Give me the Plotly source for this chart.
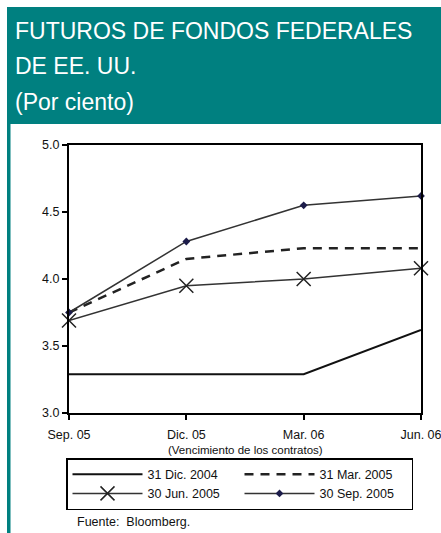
import plotly.graph_objects as go

categories = ["Sep. 05", "Dic. 05", "Mar. 06", "Jun. 06"]
positions = [0, 1, 2, 3]
s_dic2004 = [3.29, 3.29, 3.29, 3.62]
s_mar2005 = [3.75, 4.15, 4.23, 4.23]
s_jun2005 = [3.69, 3.95, 4.00, 4.08]
s_sep2005 = [3.75, 4.28, 4.55, 4.62]
y_ticks = [3.0, 3.5, 4.0, 4.5, 5.0]

W, H = 441, 533
L, R, T, B = 69, 421, 145, 413   # plot area in pixels
pw, ph = R - L, B - T

def px(X):
    return (X - L) / pw

def py(Y):
    return (B - Y) / ph

TEAL = "#008080"
FONT = "Liberation Sans, Arial, sans-serif"

fig = go.Figure()
fig.add_trace(go.Scatter(x=positions, y=s_dic2004, mode="lines", name="31 Dic. 2004",
                         line=dict(color="#111111", width=2), cliponaxis=False))
fig.add_trace(go.Scatter(x=positions, y=s_mar2005, mode="lines", name="31 Mar. 2005",
                         line=dict(color="#222222", width=2.5, dash="9px,7px"), cliponaxis=False))
fig.add_trace(go.Scatter(x=positions, y=s_jun2005, mode="lines+markers", name="30 Jun. 2005",
                         line=dict(color="#333333", width=1.5),
                         marker=dict(symbol="x-thin", size=14, line=dict(width=1.5, color="#222222")),
                         cliponaxis=False))
fig.add_trace(go.Scatter(x=positions, y=s_sep2005, mode="lines+markers", name="30 Sep. 2005",
                         line=dict(color="#333333", width=1.5),
                         marker=dict(symbol="diamond", size=6, color="#1c1c4a"),
                         cliponaxis=False))

shapes = [
    dict(type="rect", xref="paper", yref="paper", x0=px(7), x1=px(441), y0=py(124), y1=py(7),
         fillcolor=TEAL, line=dict(width=0), layer="below"),
    dict(type="rect", xref="paper", yref="paper", x0=px(7), x1=px(10.5), y0=py(533), y1=py(124),
         fillcolor=TEAL, line=dict(width=0), layer="below"),
]

annotations = [
    dict(text="FUTUROS DE FONDOS FEDERALES", x=px(13), y=py(31)),
    dict(text="DE EE. UU.", x=px(13), y=py(66)),
    dict(text="(Por ciento)", x=px(13), y=py(102)),
]
annotations = [dict(a, xref="paper", yref="paper", xanchor="left", yanchor="middle", showarrow=False,
                    font=dict(family=FONT, size=23, color="white")) for a in annotations]
annotations.append(dict(text="(Vencimiento de los contratos)", x=px(245), y=py(450), xref="paper", yref="paper",
                        xanchor="center", yanchor="middle", showarrow=False,
                        font=dict(family=FONT, size=11.5, color="#111111")))
annotations.append(dict(text="Fuente:  Bloomberg.", x=px(75), y=py(522), xref="paper", yref="paper",
                        xanchor="left", yanchor="middle", showarrow=False,
                        font=dict(family=FONT, size=12.5, color="#111111")))

fig.update_layout(
    width=W, height=H,
    margin=dict(l=L, r=W - R, t=T, b=H - B, pad=0, autoexpand=False),
    paper_bgcolor="white", plot_bgcolor="white",
    font=dict(family=FONT, size=12, color="#111111"),
    showlegend=True,
    legend=dict(orientation="h", x=px(66), y=py(458), xanchor="left", yanchor="top",
                bordercolor="black", borderwidth=1.5, entrywidth=87, entrywidthmode="pixels",
                font=dict(family=FONT, size=12.5, color="#111111"), tracegroupgap=0,
                itemwidth=70),
    xaxis=dict(range=[0, 3], tickvals=positions, ticktext=categories, showgrid=False, zeroline=False,
               showline=True, linecolor="black", linewidth=2, mirror=True, automargin=False,
               ticks="outside", ticklen=5, tickwidth=1.5, tickcolor="black",
               ticklabelstandoff=4, ticklabeloverflow="allow", tickfont=dict(size=12.5)),
    xaxis2=dict(range=[0, 3], tickvals=positions, overlaying="x", anchor="y", side="bottom",
                showticklabels=False, showgrid=False, zeroline=False, automargin=False,
                ticks="inside", ticklen=5, tickwidth=1.5, tickcolor="black"),
    yaxis=dict(range=[3, 5], tickvals=y_ticks, tickformat=".1f", showgrid=False, zeroline=False,
               showline=True, linecolor="black", linewidth=2, mirror=True, automargin=False,
               ticks="outside", ticklen=5, tickwidth=1.5, tickcolor="black", tickfont=dict(size=12.5)),
    shapes=shapes, annotations=annotations,
)

fig.write_html("out.html", config={"displayModeBar": False},
               post_script="document.body.style.margin='0';document.body.style.overflow='hidden';")
